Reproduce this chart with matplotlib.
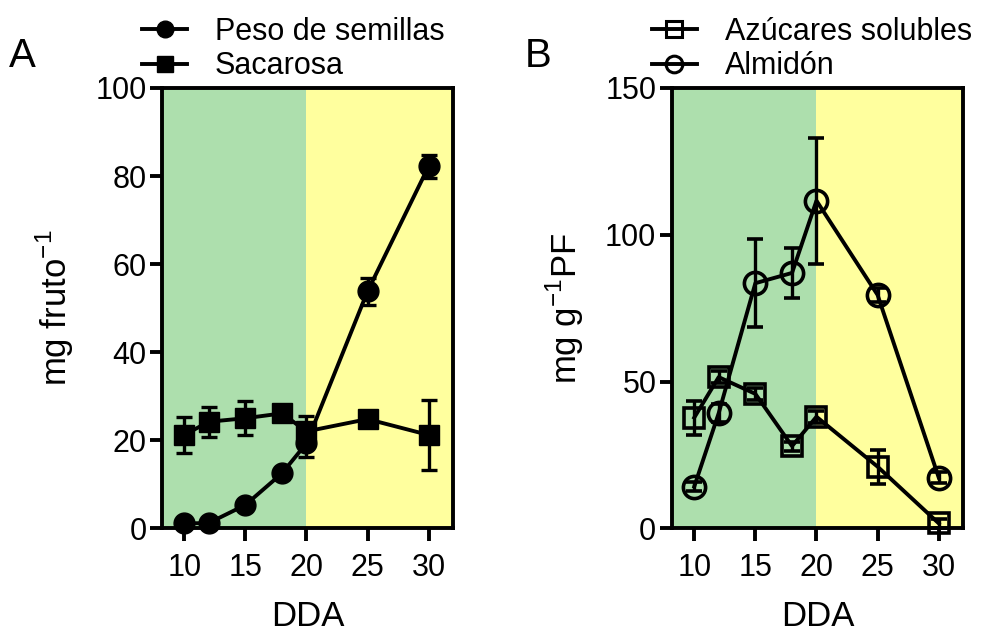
import numpy as np
import matplotlib
matplotlib.use("Agg")
import matplotlib.pyplot as plt
from matplotlib.lines import Line2D

plt.rcParams["font.family"] = ["Liberation Sans", "DejaVu Sans"]
plt.rcParams["mathtext.fontset"] = "custom"
plt.rcParams["mathtext.rm"] = "Liberation Sans"

#DATA
dda = [10, 12, 15, 18, 20, 25, 30]

# Panel A (mg fruto-1)
peso_semillas = [1.1, 1.2, 5.3, 12.5, 19.3, 53.8, 82.2]
peso_semillas_err = [0.5, 0.5, 0.8, 1.2, 3.0, 3.0, 2.6]
sacarosa = [21.2, 24.2, 25.0, 26.1, 22.0, 24.8, 21.2]
sacarosa_err = [4.0, 3.4, 3.8, 1.0, 3.5, 1.0, 8.0]

# Panel B (mg g-1 PF)
azucares = [37.7, 51.5, 45.8, 28.0, 38.0, 21.0, 1.7]
azucares_err = [5.8, 2.0, 2.0, 1.5, 2.0, 5.8, 1.5]
almidon = [14.2, 39.2, 83.5, 87.0, 111.6, 79.5, 17.3]
almidon_err = [1.5, 3.0, 15.0, 8.4, 21.5, 2.5, 2.0]

xlim = (8.15, 32.0)
split_x = 20
green = "#addfad"
yellow = "#ffff9e"

#STYLE
def style_axes(ax, ylim, yticks):
    ax.axvspan(xlim[0], split_x, color=green, lw=0, zorder=0)
    ax.axvspan(split_x, xlim[1], color=yellow, lw=0, zorder=0)
    ax.set_xlim(*xlim)
    ax.set_ylim(*ylim)
    ax.set_xticks([10, 15, 20, 25, 30])
    ax.set_yticks(yticks)
    for s in ax.spines.values():
        s.set_linewidth(2.8)
    ax.tick_params(direction="out", length=9, width=2.8, labelsize=22)
    ax.tick_params(axis="y", pad=2)
    ax.tick_params(axis="x", pad=9)
    ax.set_xlabel("DDA", fontsize=25, labelpad=12)


def add_legend(ax, handles, labels):
    ax.legend(handles, labels, loc="lower left", bbox_to_anchor=(-0.069, 1.015),
              frameon=False, fontsize=22, handlelength=1.5, handletextpad=0.9,
              labelspacing=0.15, borderaxespad=0, borderpad=0)


fig = plt.figure(figsize=(9.95, 6.33), dpi=100)
ax1 = fig.add_axes([0.1625, 0.1654, 0.2928, 0.6956])
ax2 = fig.add_axes([0.675, 0.1654, 0.2930, 0.6956])

err_kw = dict(color="black", lw=2.8, elinewidth=2.4, capsize=5.5, capthick=2.4,
              clip_on=False, zorder=3)

#Panel A
style_axes(ax1, (0, 100), [0, 20, 40, 60, 80, 100])
ax1.errorbar(dda, peso_semillas, yerr=peso_semillas_err, fmt="-o", ms=15, **err_kw)
ax1.errorbar(dda, sacarosa, yerr=sacarosa_err, fmt="-s", ms=15, **err_kw)
ax1.set_ylabel("mg fruto$^{\\mathregular{-1}}$", fontsize=25, labelpad=14)
add_legend(ax1,
           [Line2D([], [], color="black", lw=2.8, marker="o", ms=12),
            Line2D([], [], color="black", lw=2.8, marker="s", ms=12)],
           ["Peso de semillas", "Sacarosa"])
ax1.text(-0.525, 1.072, "A", transform=ax1.transAxes, fontsize=29, va="center")

#Panel B
style_axes(ax2, (0, 150), [0, 50, 100, 150])
ax2.errorbar(dda, azucares, yerr=azucares_err, fmt="-s", ms=15, mfc="none",
             mew=2.6, **err_kw)
ax2.errorbar(dda, almidon, yerr=almidon_err, fmt="-o", ms=16, mfc="none",
             mew=2.6, **err_kw)
ax2.set_ylabel("mg g$^{\\mathregular{-1}}$PF", fontsize=25, labelpad=14)
add_legend(ax2,
           [Line2D([], [], color="black", lw=2.8, marker="s", ms=12, mfc="none", mew=2.2),
            Line2D([], [], color="black", lw=2.8, marker="o", ms=12, mfc="none", mew=2.2)],
           ["Azúcares solubles", "Almidón"])
ax2.text(-0.505, 1.072, "B", transform=ax2.transAxes, fontsize=29, va="center")

plt.savefig("out.png", dpi=100)
